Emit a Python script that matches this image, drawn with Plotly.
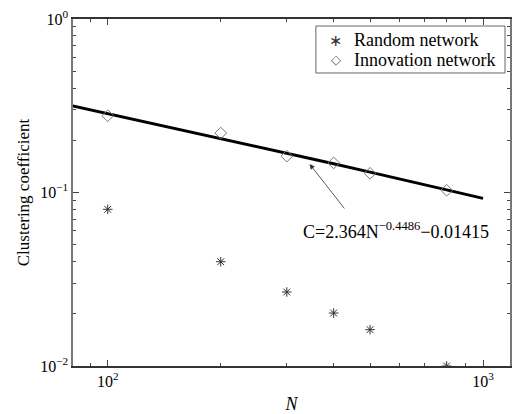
import plotly.graph_objects as go
import numpy as np

N_points = [100, 200, 300, 400, 500, 800]
random_C = [0.080, 0.0399, 0.0267, 0.0202, 0.0162, 0.0100]
innovation_C = [0.277, 0.220, 0.162, 0.148, 0.129, 0.103]

fit_N = [80, 100, 200, 300, 400, 500, 600, 800, 1000]
fit_C = [0.317, 0.285, 0.2055, 0.169, 0.1466, 0.131, 0.120, 0.1036, 0.0925]

series_names = ["Random network", "Innovation network"]
legend_glyphs = ["∗", "◇"]

y_tickvals = [0.01, 0.1, 1]
y_ticktext = ["10<sup>−2</sup>", "10<sup>−1</sup>", "10<sup>0</sup>"]
x_tickvals = [100, 1000]
x_ticktext = ["10<sup>2</sup>", "10<sup>3</sup>"]

font = "Liberation Serif"

fig = go.Figure()
fig.add_trace(go.Scatter(x=fit_N, y=fit_C, mode="lines",
                         line=dict(color="black", width=3), showlegend=False))
fig.add_trace(go.Scatter(x=N_points, y=random_C, mode="markers", name=series_names[0],
                         marker=dict(symbol="asterisk-open", size=8, color="#333",
                                     line=dict(color="#333", width=1))))
fig.add_trace(go.Scatter(x=N_points, y=innovation_C, mode="markers", name=series_names[1],
                         marker=dict(symbol="diamond-open", size=9, color="#777",
                                     line=dict(color="#777", width=1))))

minor_x = [v * 10 ** d for d in (1, 2, 3) for v in range(2, 10)]
minor_y = [v * 10 ** d for d in (-2, -1) for v in range(2, 10)]

fig.update_layout(
    width=514, height=414,
    margin=dict(l=73, r=2, t=19, b=48),
    paper_bgcolor="white", plot_bgcolor="white",
    font=dict(family=font, color="black", size=16),
    showlegend=False,
    xaxis=dict(type="log", range=[np.log10(80.8), np.log10(1180)],
               tickvals=x_tickvals, ticktext=x_ticktext, ticks="inside", ticklen=6,
               showline=True, linecolor="#333", linewidth=1.5, mirror="ticks",
               showgrid=False, zeroline=False,
               minor=dict(tickvals=minor_x, ticks="inside", ticklen=3, showgrid=False),
               title=dict(text="<i>N</i>", font=dict(size=18, family=font), standoff=8)),
    yaxis=dict(type="log", range=[-2, 0],
               tickvals=y_tickvals, ticktext=y_ticktext, ticks="inside", ticklen=6,
               showline=True, linecolor="#777", linewidth=1.5, mirror="ticks",
               showgrid=False, zeroline=False,
               minor=dict(tickvals=minor_y, ticks="inside", ticklen=3, showgrid=False),
               title=dict(text="Clustering coefficient", font=dict(size=17, family=font), standoff=6)),
)

# Legend box (drawn manually to match compact spacing)
fig.add_shape(type="rect", xref="paper", yref="paper",
              x0=0.5558, x1=0.9886, y0=0.8444, y1=0.9798,
              line=dict(color="#666", width=1), fillcolor="white", layer="above")
legend_rows_y = [0.939, 0.882]
glyph_sizes = [16, 13]
glyph_colors = ["#333", "#666"]
for name, glyph, gy, gs, gc in zip(series_names, legend_glyphs, legend_rows_y, glyph_sizes, glyph_colors):
    fig.add_annotation(x=0.6014, y=gy, xref="paper", yref="paper", showarrow=False,
                       xanchor="center", yanchor="middle", text=glyph,
                       font=dict(size=gs, family="DejaVu Sans", color=gc))
    fig.add_annotation(x=0.638, y=gy, xref="paper", yref="paper", showarrow=False,
                       xanchor="left", yanchor="middle", text=name,
                       font=dict(size=18, family=font, color="black"))

fig.add_annotation(x=np.log10(345), y=np.log10(0.146), xref="x", yref="y",
                   ax=36, ay=46, axref="pixel", ayref="pixel",
                   text="", showarrow=True, arrowhead=2, arrowsize=1.3,
                   arrowwidth=0.8, arrowcolor="#333")
fig.add_annotation(x=0.522, y=0.39, xref="paper", yref="paper", xanchor="left",
                   yanchor="middle", showarrow=False,
                   text="C=2.364N<sup>−0.4486</sup>−0.01415",
                   font=dict(size=18, family=font, color="black"))

fig.write_html("out.html")
